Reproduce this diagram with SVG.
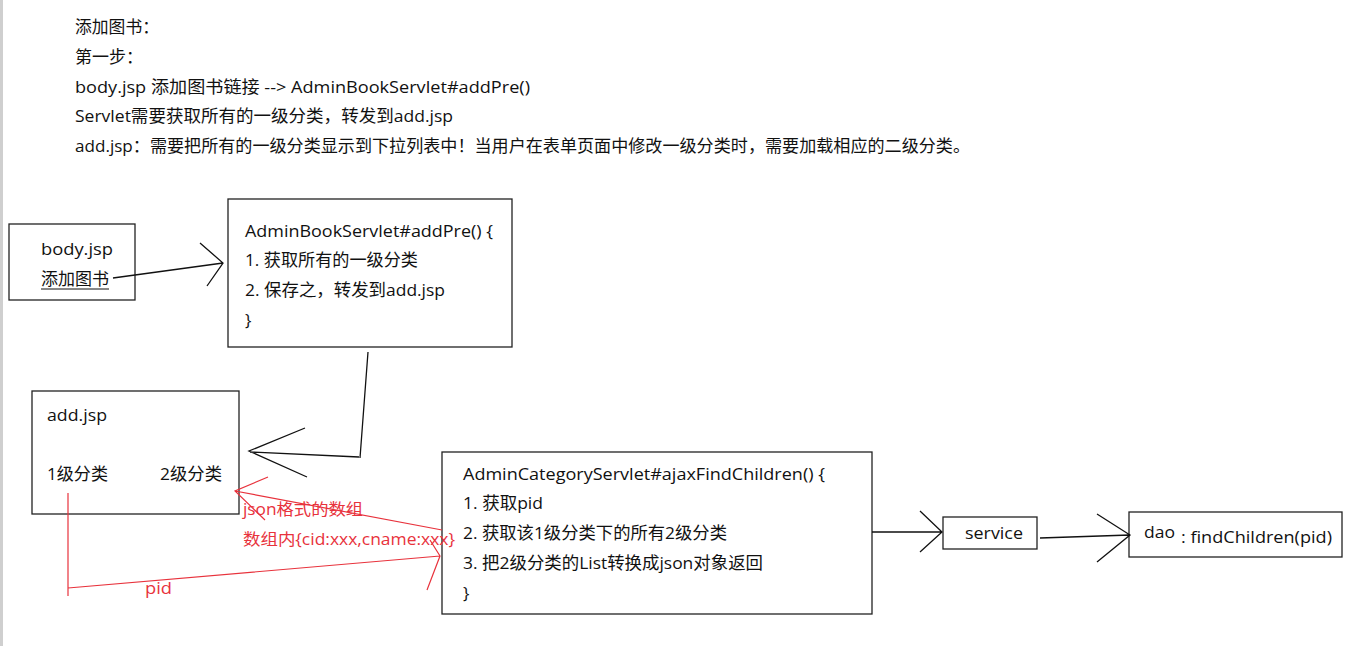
<svg xmlns="http://www.w3.org/2000/svg" width="1358" height="646" viewBox="0 0 1358 646">
<style>
text{font-family:"Open Sans","Noto Sans CJK SC",sans-serif;font-size:17px;fill:#111}
.r{fill:#e8323c;font-size:16px}
.box{fill:#fff;stroke:#222;stroke-width:1.3}
.k{stroke:#111;stroke-width:1.3;fill:none}
.rl{stroke:#e8323c;stroke-width:1.2;fill:none}
</style>
<rect x="0" y="0" width="1358" height="646" fill="#fff"/>
<rect x="0" y="0" width="3" height="646" fill="#cfcfcf"/>
<g id="intro">
<text x="75" y="33" textLength="84" lengthAdjust="spacingAndGlyphs">添加图书：</text>
<text x="75" y="63" textLength="68" lengthAdjust="spacingAndGlyphs">第一步：</text>
<text x="75" y="93" textLength="455" lengthAdjust="spacingAndGlyphs">body.jsp 添加图书链接 --&gt; AdminBookServlet#addPre()</text>
<text x="75" y="122" textLength="378" lengthAdjust="spacingAndGlyphs">Servlet需要获取所有的一级分类，转发到add.jsp</text>
<text x="75" y="152" textLength="895" lengthAdjust="spacingAndGlyphs">add.jsp：需要把所有的一级分类显示到下拉列表中！当用户在表单页面中修改一级分类时，需要加载相应的二级分类。</text>
</g>
<g id="body-jsp">
<rect class="box" x="9" y="224" width="126" height="76"/>
<text x="41" y="255" textLength="72" lengthAdjust="spacingAndGlyphs">body.jsp</text>
<text x="41" y="285" textLength="68" lengthAdjust="spacingAndGlyphs">添加图书</text>
<line x1="41" y1="289" x2="109" y2="289" stroke="#111" stroke-width="1"/>
</g>
<g id="admin-book-servlet">
<rect class="box" x="228" y="199" width="284" height="148"/>
<text x="245" y="237" textLength="248" lengthAdjust="spacingAndGlyphs">AdminBookServlet#addPre() {</text>
<text x="245" y="266" textLength="173" lengthAdjust="spacingAndGlyphs">1. 获取所有的一级分类</text>
<text x="245" y="296" textLength="200" lengthAdjust="spacingAndGlyphs">2. 保存之，转发到add.jsp</text>
<text x="245" y="326">}</text>
</g>
<g id="add-jsp">
<rect class="box" x="32" y="391" width="207" height="123"/>
<text x="47" y="421" textLength="60" lengthAdjust="spacingAndGlyphs">add.jsp</text>
<text x="47" y="480" textLength="61" lengthAdjust="spacingAndGlyphs">1级分类</text>
<text x="160" y="480" textLength="62" lengthAdjust="spacingAndGlyphs">2级分类</text>
</g>
<g id="admin-category-servlet">
<rect class="box" x="442" y="452" width="430" height="162"/>
<text x="463" y="480" textLength="362" lengthAdjust="spacingAndGlyphs">AdminCategoryServlet#ajaxFindChildren() {</text>
<text x="463" y="509" textLength="80" lengthAdjust="spacingAndGlyphs">1. 获取pid</text>
<text x="463" y="539" textLength="264" lengthAdjust="spacingAndGlyphs">2. 获取该1级分类下的所有2级分类</text>
<text x="463" y="569" textLength="300" lengthAdjust="spacingAndGlyphs">3. 把2级分类的List转换成json对象返回</text>
<text x="463" y="599">}</text>
</g>
<g id="service">
<rect class="box" x="943" y="517" width="94" height="32"/>
<text x="965" y="539" textLength="58" lengthAdjust="spacingAndGlyphs">service</text>
</g>
<g id="dao">
<rect class="box" x="1129" y="512" width="213" height="45"/>
<text x="1144" y="538" textLength="31" lengthAdjust="spacingAndGlyphs">dao</text>
<text x="1181" y="543" textLength="151" lengthAdjust="spacingAndGlyphs">: findChildren(pid)</text>
</g>
<g id="connectors">
<path class="k" d="M113,278 L223,263 M200,243 L223,263 L207,286"/>
<path class="k" d="M368,352 L360,458 M359,457 L250,452 M305,428 L249,451 L307,477"/>
<path class="k" d="M872,532 L942,532 M920,511 L942,532 L920,552"/>
<path class="k" d="M1040,538 L1130,535 M1097,514 L1130,535 L1097,562"/>
<path class="rl" d="M68,493 L68,596 M68,588 L440,556 M430,540 L440,556 L427,590"/>
<path class="rl" d="M442,530 L235,491 M268,477 L235,491 L265,520"/>
<text class="r" x="145" y="594" textLength="27" lengthAdjust="spacingAndGlyphs">pid</text>
<text class="r" x="243" y="515" textLength="120" lengthAdjust="spacingAndGlyphs">json格式的数组</text>
<text class="r" x="243" y="545" textLength="212" lengthAdjust="spacingAndGlyphs">数组内{cid:xxx,cname:xxx}</text>
</g>
</svg>
